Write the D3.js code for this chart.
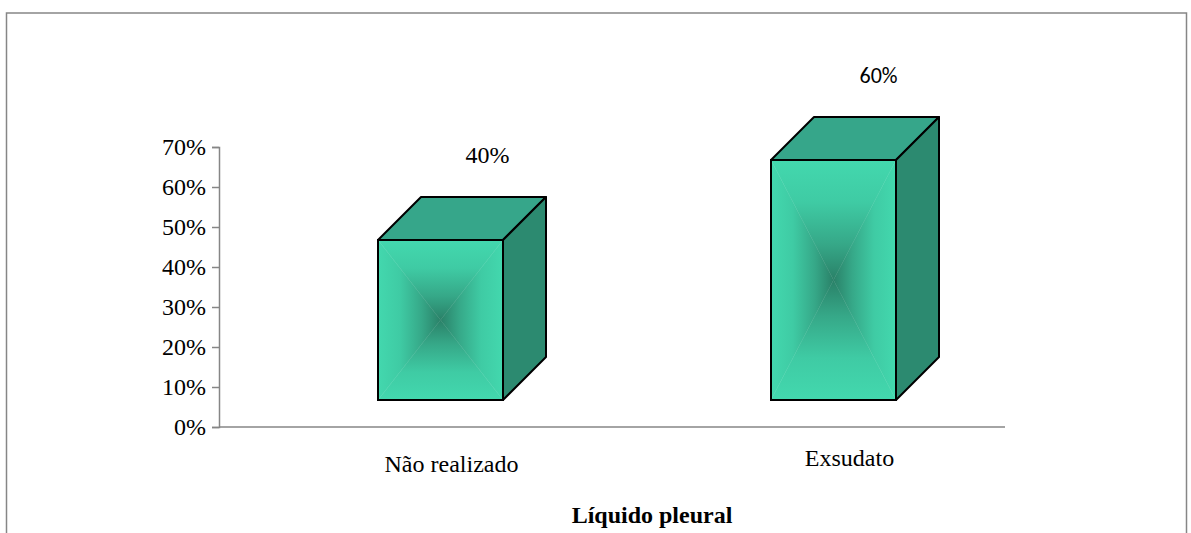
<!DOCTYPE html>
<html>
<head>
<meta charset="utf-8">
<script src="https://d3js.org/d3.v7.min.js"></script>
<style>
  html, body { margin: 0; padding: 0; background: #fff; }
  text { font-family: "Liberation Serif", serif; fill: #000; }
</style>
</head>
<body>
<div id="plot"></div>
<script>
// data
const categories = ["Não realizado", "Exsudato"];
const values = [40, 60];
const valueLabels = ["40%", "60%"];
const yTicks = [0, 10, 20, 30, 40, 50, 60, 70];
const axisTitle = "Líquido pleural";

const width = 1191, height = 533;

const svg = d3.select("div#plot")
  .append("svg")
  .attr("width", width)
  .attr("height", height)
  .style("display", "block");

// outer frame, cut off at the bottom of the picture
svg.append("path")
  .attr("d", `M6.5,533V13H1186.5V533`)
  .attr("fill", "none")
  .attr("stroke", "#868686")
  .attr("stroke-width", 1.5);

// scales
const x = d3.scaleBand().domain(categories).range([219, 1005]);
const y = d3.scaleLinear().domain([0, 70]).range([427, 147]);

// box geometry
const depth = 43, floor = 27, boxWidth = 125;
const lift = v => y(v) - floor;

// gradients for the four triangles of the front face
const defs = svg.append("defs");
const stops = [[0, "#43d8ae"], [0.35, "#3fcba4"], [0.7, "#36a888"], [1, "#2a8168"]];
const dirs = {
  top: [0, 0, 0, 1],
  bottom: [0, 1, 0, 0],
  left: [0, 0, 1, 0],
  right: [1, 0, 0, 0]
};
Object.entries(dirs).forEach(([name, d]) => {
  const g = defs.append("linearGradient")
    .attr("id", "face-" + name)
    .attr("x1", d[0]).attr("y1", d[1])
    .attr("x2", d[2]).attr("y2", d[3]);
  stops.forEach(s => g.append("stop").attr("offset", s[0]).attr("stop-color", s[1]));
});

// axes
const axisColor = "#868686";
const yAxis = svg.append("g")
  .attr("transform", "translate(219,0)")
  .call(d3.axisLeft(y).tickValues(yTicks).tickSize(7).tickPadding(6).tickFormat(d => d + "%"));
yAxis.selectAll("path,line").attr("stroke", axisColor).attr("stroke-width", 1.5);
yAxis.selectAll("text").attr("font-size", 24).attr("font-family", "Liberation Serif").attr("fill", "#000");

svg.append("line")
  .attr("x1", x.range()[0]).attr("x2", x.range()[1])
  .attr("y1", y(0)).attr("y2", y(0))
  .attr("stroke", axisColor).attr("stroke-width", 1.5);

// boxes
const boxes = svg.selectAll("g.box")
  .data(categories.map((c, i) => ({c, v: values[i], label: valueLabels[i], i})))
  .join("g")
  .attr("class", "box");

boxes.each(function(d) {
  const g = d3.select(this);
  const x0 = x(d.c) + x.bandwidth() / 2 - boxWidth / 2 + 25;
  const x1 = x0 + boxWidth;
  const y0 = lift(d.v), y1 = lift(0);
  const cx = (x0 + x1) / 2, cy = (y0 + y1) / 2;

  const tris = {
    top: [[x0, y0], [x1, y0], [cx, cy]],
    bottom: [[x0, y1], [x1, y1], [cx, cy]],
    left: [[x0, y0], [x0, y1], [cx, cy]],
    right: [[x1, y0], [x1, y1], [cx, cy]]
  };
  Object.entries(tris).forEach(([name, pts]) => {
    g.append("polygon")
      .attr("points", pts.join(" "))
      .attr("fill", `url(#face-${name})`)
      .attr("stroke", `url(#face-${name})`)
      .attr("stroke-width", 0.4);
  });
  g.append("rect")
    .attr("x", x0).attr("y", y0)
    .attr("width", x1 - x0).attr("height", y1 - y0)
    .attr("fill", "none")
    .attr("stroke", "#000").attr("stroke-width", 2);

  // top and side faces
  g.append("polygon")
    .attr("points", [[x0, y0], [x0 + depth, y0 - depth], [x1 + depth, y0 - depth], [x1, y0]].join(" "))
    .attr("fill", "#36a68a").attr("stroke", "#000").attr("stroke-width", 2).attr("stroke-linejoin", "round");
  g.append("polygon")
    .attr("points", [[x1, y0], [x1 + depth, y0 - depth], [x1 + depth, y1 - depth], [x1, y1]].join(" "))
    .attr("fill", "#2c8a70").attr("stroke", "#000").attr("stroke-width", 2).attr("stroke-linejoin", "round");
});

// value labels: the first in the serif face, the second in a sans face like the original
svg.append("text")
  .attr("x", x(categories[0]) + x.bandwidth() / 2 + 72)
  .attr("y", 163)
  .attr("text-anchor", "middle")
  .attr("font-size", 24)
  .text(valueLabels[0]);
svg.append("text")
  .attr("x", x(categories[1]) + x.bandwidth() / 2 + 70)
  .attr("y", 83)
  .attr("text-anchor", "middle")
  .attr("font-size", 22)
  .style("font-family", "Carlito, 'Open Sans', sans-serif")
  .text(valueLabels[1]);

// category labels
svg.append("text")
  .attr("x", x(categories[0]) + x.bandwidth() / 2 + 36)
  .attr("y", 472)
  .attr("text-anchor", "middle")
  .attr("font-size", 24)
  .text(categories[0]);
svg.append("text")
  .attr("x", x(categories[1]) + x.bandwidth() / 2 + 41)
  .attr("y", 466)
  .attr("text-anchor", "middle")
  .attr("font-size", 24)
  .text(categories[1]);

svg.append("text")
  .attr("x", 652)
  .attr("y", 523)
  .attr("text-anchor", "middle")
  .attr("font-size", 24)
  .attr("font-weight", "bold")
  .text(axisTitle);
</script>
</body>
</html>
